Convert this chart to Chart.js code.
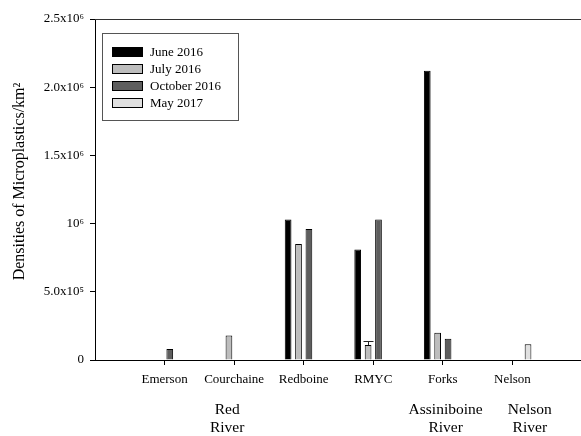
<!DOCTYPE html>
<html>
<head>
<meta charset="utf-8">
<script src="https://cdn.jsdelivr.net/npm/chart.js@4/dist/chart.umd.min.js"></script>
<style>
  html, body { margin: 0; padding: 0; overflow: hidden; background: #fff; }
  canvas { display: block; }
</style>
</head>
<body>
<canvas id="chart" width="582" height="436"></canvas>
<script>
// sites along the rivers
const sites = ['Emerson', 'Courchaine', 'Redboine', 'RMYC', 'Forks', 'Nelson']
const rivers = [['Red', 'River'], ['Assiniboine', 'River'], ['Nelson', 'River']]

// densities (particles / km2), null = not sampled
const june2016 = [null, null, 1030000, 810000, 2120000, null]
const july2016 = [null, 180000, 850000, 110000, 200000, null]
const oct2016  = [80000, null, 960000, 1030000, 156000, null]
const may2017  = [null, null, null, null, null, 115000]
const july2016Err = [null, null, null, 27000, null, null]

const yTickLabels = ['0', '5.0x10\u2075', '10\u2076', '1.5x10\u2076', '2.0x10\u2076', '2.5x10\u2076']

const serif = '"Liberation Serif", "Times New Roman", serif'

function points(vals) {
  return vals.map((v, i) => ({ x: i + 1, y: v }))
}

function bars(label, vals, color) {
  return {
    label: label,
    data: points(vals),
    backgroundColor: color,
    borderColor: '#000',
    borderWidth: 1,
    categoryPercentage: 0.598,
    barPercentage: 0.645
  }
}

// legend drawn inside the plot, with a frame
const boxLegend = {
  id: 'boxLegend',
  afterDraw(chart) {
    const ctx = chart.ctx
    const a = chart.chartArea
    const x0 = Math.round(a.left) + 7
    const y0 = Math.round(a.top) + 14
    ctx.save()
    ctx.lineWidth = 1
    ctx.strokeStyle = '#555'
    ctx.strokeRect(x0 + 0.5, y0 + 0.5, 136, 87)
    ctx.font = '13px ' + serif
    ctx.textBaseline = 'middle'
    chart.data.datasets.forEach((ds, i) => {
      const cy = y0 + 19 + i * 17
      ctx.fillStyle = ds.backgroundColor
      ctx.fillRect(x0 + 10, cy - 5, 31, 10)
      ctx.strokeStyle = '#000'
      ctx.strokeRect(x0 + 10.5, cy - 4.5, 30, 9)
      ctx.fillStyle = '#000'
      ctx.fillText(ds.label, x0 + 48, cy + 1)
    })
    ctx.restore()
  }
}

// upper error bar on July bars + top frame line
const extras = {
  id: 'extras',
  afterDatasetsDraw(chart) {
    const ctx = chart.ctx
    const a = chart.chartArea
    const yScale = chart.scales.y
    const meta = chart.getDatasetMeta(1)
    ctx.save()
    ctx.strokeStyle = '#222'
    ctx.lineWidth = 1
    july2016Err.forEach((e, i) => {
      if (e == null) return
      const el = meta.data[i]
      const x = Math.round(el.x) + 0.5
      const yBar = yScale.getPixelForValue(july2016[i])
      const yTop = Math.round(yScale.getPixelForValue(july2016[i] + e)) + 0.5
      ctx.beginPath()
      ctx.moveTo(x, yBar)
      ctx.lineTo(x, yTop)
      ctx.moveTo(x - 5, yTop)
      ctx.lineTo(x + 5, yTop)
      ctx.stroke()
    })
    ctx.strokeStyle = '#333'
    ctx.beginPath()
    ctx.moveTo(a.left, Math.round(a.top) + 0.5)
    ctx.lineTo(a.right, Math.round(a.top) + 0.5)
    ctx.stroke()
    ctx.restore()
  }
}

new Chart(document.getElementById('chart').getContext('2d'), {
  type: 'bar',
  data: {
    datasets: [
      bars('June 2016', june2016, '#000000'),
      bars('July 2016', july2016, '#bdbdbd'),
      bars('October 2016', oct2016, '#5e5e5e'),
      bars('May 2017', may2017, '#e0e0e0')
    ]
  },
  options: {
    responsive: false,
    animation: false,
    events: [],
    devicePixelRatio: 1,
    layout: { padding: { top: 19, right: 0, bottom: 0, left: 0 } },
    plugins: {
      legend: { display: false },
      tooltip: { enabled: false }
    },
    scales: {
      x: {
        type: 'linear',
        position: 'bottom',
        offset: false,
        weight: 0,
        min: 0,
        max: 7,
        afterBuildTicks(scale) {
          scale.ticks = sites.map((s, i) => ({ value: i + 1 }))
        },
        afterFit(scale) { scale.height = 30 },
        ticks: {
          autoSkip: false,
          maxRotation: 0,
          padding: 7,
          color: '#000',
          font: { family: serif, size: 13 },
          callback: (v) => sites[v - 1]
        },
        grid: { offset: false, drawOnChartArea: false, tickLength: 5, color: '#000' },
        border: { display: true, color: '#000', width: 1 }
      },
      x2: {
        type: 'linear',
        position: 'bottom',
        offset: false,
        weight: 1,
        min: 0,
        max: 7,
        afterBuildTicks(scale) {
          scale.ticks = [{ value: 1.9 }, { value: 5.04 }, { value: 6.25 }]
        },
        afterFit(scale) { scale.height = 46 },
        ticks: {
          autoSkip: false,
          maxRotation: 0,
          padding: 3,
          color: '#000',
          font: { family: serif, size: 15.5, lineHeight: 1.15 },
          callback: (v, i) => rivers[i]
        },
        grid: { display: false, offset: false },
        border: { display: false }
      },
      y: {
        min: 0,
        max: 2500000,
        afterFit(scale) { scale.width = 95 },
        ticks: {
          stepSize: 500000,
          padding: 6,
          color: '#000',
          font: { family: serif, size: 13 },
          callback: (v) => yTickLabels[Math.round(v / 500000)]
        },
        grid: { drawOnChartArea: false, tickLength: 5, color: '#000' },
        border: { display: true, color: '#000', width: 1 },
        title: {
          display: true,
          text: '\u00a0\u00a0\u00a0\u00a0Densities of Microplastics/km\u00b2',
          color: '#000',
          font: { family: serif, size: 16 },
          padding: { top: 10, bottom: 0 }
        }
      }
    }
  },
  plugins: [boxLegend, extras]
})
</script>
</body>
</html>
